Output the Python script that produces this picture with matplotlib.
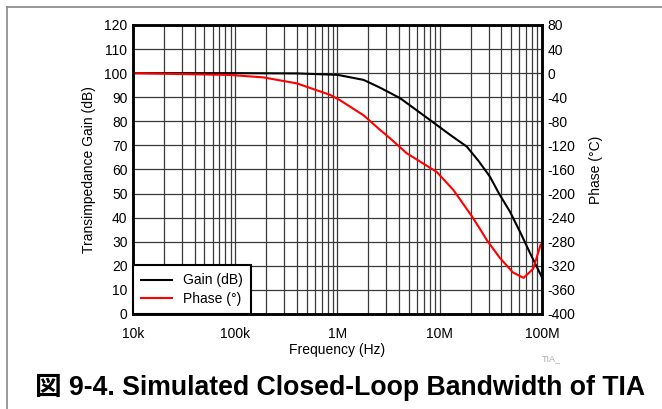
# closed-loop bandwidth of the TIA: gain and phase vs frequency
import matplotlib
matplotlib.use('Agg')
from matplotlib import pyplot as plt
from matplotlib.lines import Line2D
from matplotlib.ticker import FixedLocator, LogLocator, NullFormatter
import numpy as np

plt.rcParams['font.family'] = ['Liberation Sans', 'Noto Sans CJK JP', 'DejaVu Sans']
plt.rcParams['axes.unicode_minus'] = False

# gain curve (left axis, dB)
gain_freq = [10e3, 100e3, 400e3, 1e6, 1.8e6, 2.6e6, 4.1e6, 8e6, 13e6, 18.4e6,
             24e6, 31e6, 38e6, 48.6e6, 62e6, 76e6, 100e6]
gain_db = [100, 100, 99.9, 99.3, 97.2, 94, 89.6, 80.6, 74, 69.5,
           63.5, 57, 50, 42.5, 33.5, 25.5, 15.2]

# phase curve (right axis, degrees)
phase_freq = [10e3, 89e3, 188e3, 400e3, 845e3, 1.06e6, 1.8e6, 2.6e6, 3.26e6,
              4.75e6, 9.34e6, 13.6e6, 20.5e6, 24.8e6, 28.8e6, 38.8e6, 52e6,
              66e6, 82e6, 97e6]
phase_deg = [0, -3, -7, -17, -36, -45, -70, -94, -108,
             -133, -164, -194, -237, -259, -277, -307, -331,
             -340, -325, -285]

freq_ticks = [1e4, 1e5, 1e6, 1e7, 1e8]
freq_labels = ['10k', '100k', '1M', '10M', '100M']
gain_ticks = list(range(0, 121, 10))
phase_ticks = list(range(-400, 81, 40))

fig = plt.figure(figsize=(6.62, 4.09), dpi=100)
ax = fig.add_axes([0.2009, 0.2323, 0.6178, 0.7066])
ax2 = ax.twinx()

ax.set_xscale('log')
ax.set_xlim(1e4, 1e8)
ax.set_ylim(0, 120)
ax2.set_ylim(-400, 80)

ax.xaxis.set_major_locator(FixedLocator(freq_ticks))
ax.set_xticklabels(freq_labels)
ax.xaxis.set_minor_locator(LogLocator(base=10, subs=np.arange(2, 10)))
ax.xaxis.set_minor_formatter(NullFormatter())
ax.set_yticks(gain_ticks)
ax2.set_yticks(phase_ticks)

ax.grid(True, which='both', axis='x', color='#3a3a3a', lw=0.9)
ax.grid(True, which='major', axis='y', color='#3a3a3a', lw=0.9)
ax.set_axisbelow(True)

for a in (ax, ax2):
    a.tick_params(which='both', length=0, labelsize=10, pad=4)
    for s in a.spines.values():
        s.set_linewidth(1.8)
        s.set_color('black')
ax.tick_params(axis='x', pad=9.5)

gl, = ax.plot(gain_freq, gain_db, color='black', lw=1.5, label='Gain (dB)')
pl, = ax2.plot(phase_freq, phase_deg, color='red', lw=1.5, label='Phase (°)')

ax.set_xlabel('Frequency (Hz)', fontsize=10, labelpad=1.5)
ax.set_ylabel('Transimpedance Gain (dB)', fontsize=10, labelpad=6)
ax2.set_ylabel('Phase (°C)', fontsize=10, labelpad=10)

leg = ax2.legend(handles=[gl, pl], loc='lower left', borderaxespad=0,
                 fontsize=10, fancybox=False, framealpha=1,
                 handlelength=2.2, borderpad=0.6, labelspacing=0.3)
leg.get_frame().set_edgecolor('black')
leg.get_frame().set_linewidth(1.5)

fig.text(0.8187, 0.118, 'TIA_', fontsize=6.5, color='#aaaaaa')
fig.text(0.5136, 0.052, '図 9-4. Simulated Closed-Loop Bandwidth of TIA',
         fontsize=19.2, fontweight='bold', ha='center', va='center')

# outer frame (top and left edges)
fig.add_artist(Line2D([7 / 662, 7 / 662], [0, 1 - 7 / 409], color='#888888', lw=1.2))
fig.add_artist(Line2D([7 / 662, 1], [1 - 7 / 409, 1 - 7 / 409], color='#888888', lw=1.2))

plt.savefig('out.png', dpi=100)
